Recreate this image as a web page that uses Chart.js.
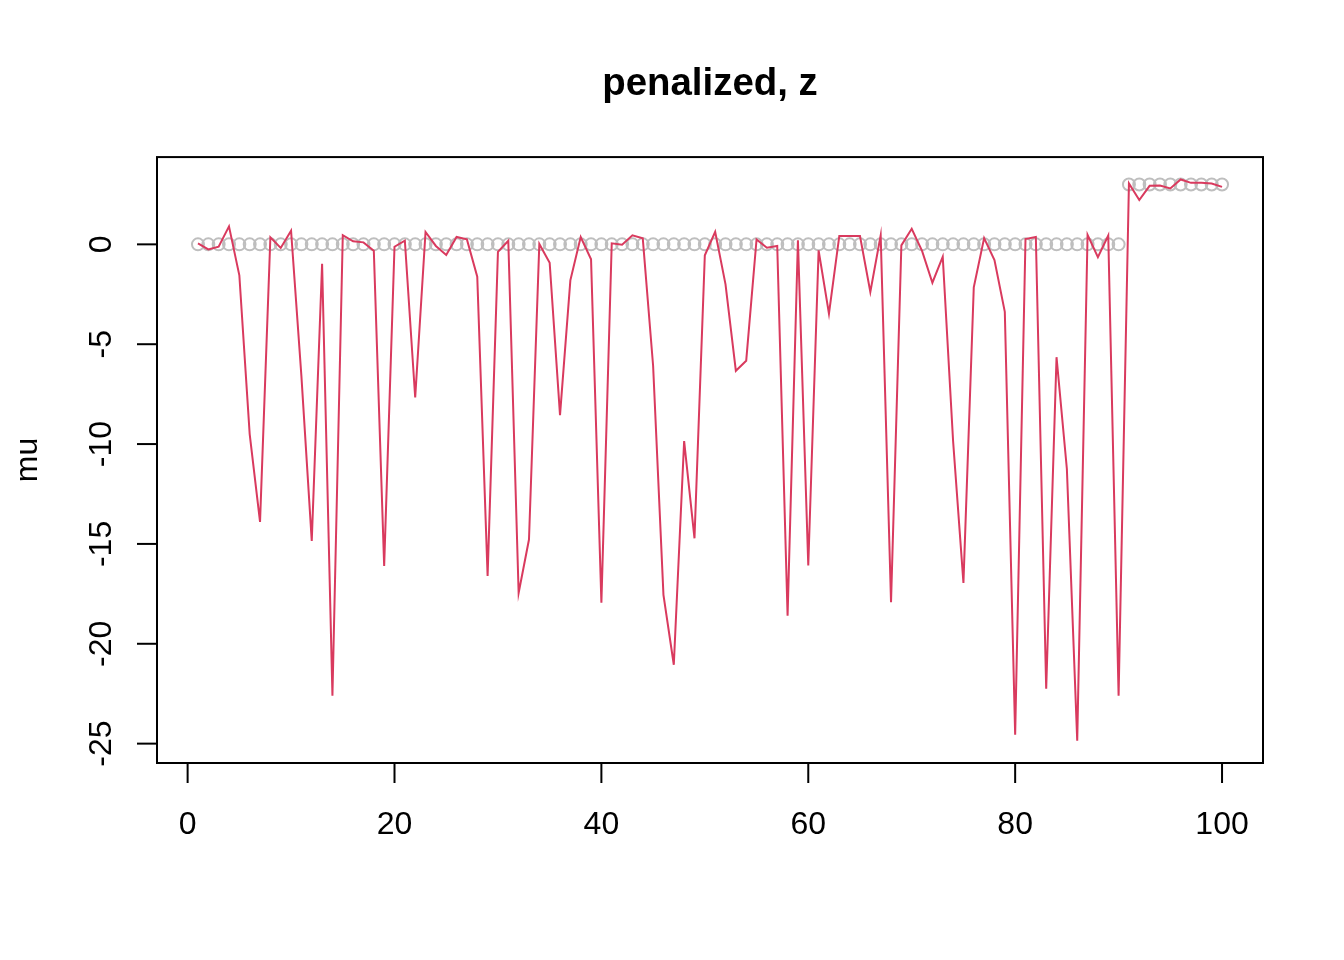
<!DOCTYPE html>
<html>
<head>
<meta charset="utf-8">
<title>penalized, z</title>
<script src="https://cdn.jsdelivr.net/npm/chart.js@4.4.1/dist/chart.umd.min.js"></script>
<style>
  html, body { margin: 0; padding: 0; background: #fff; }
  #wrap { width: 1344px; height: 960px; }
</style>
</head>
<body>
<div id="wrap"><canvas id="muChart" width="1344" height="960"></canvas></div>
<script>
// fitted mu (red line), index 1..100
const mu = [
  0.05, -0.25, -0.12, 0.9, -1.55, -9.5, -13.9, 0.35, -0.18, 0.68,
  -6.6, -14.85, -0.97, -22.6, 0.46, 0.15, 0.1, -0.32, -16.1, -0.12,
  0.18, -7.67, 0.62, -0.08, -0.53, 0.37, 0.25, -1.62, -16.6, -0.38,
  0.18, -17.45, -14.78, 0.02, -0.92, -8.55, -1.8, 0.37, -0.75, -17.95,
  0.05, -0.02, 0.45, 0.3, -6.08, -17.55, -21.05, -9.85, -14.72, -0.55,
  0.63, -2.0, -6.33, -5.83, 0.25, -0.17, -0.08, -18.6, 0.2, -16.08,
  -0.3, -3.47, 0.42, 0.42, 0.42, -2.38, 0.45, -17.92, -0.05, 0.78,
  -0.33, -1.92, -0.62, -9.85, -16.95, -2.15, 0.31, -0.79, -3.38, -24.55,
  0.27, 0.37, -22.25, -5.65, -11.25, -24.85, 0.48, -0.64, 0.44, -22.6,
  3.05, 2.22, 2.93, 2.95, 2.8, 3.25, 3.08, 3.08, 3.05, 2.88
];

// true z (grey circles)
const z = [
  0, 0, 0, 0, 0, 0, 0, 0, 0, 0,
  0, 0, 0, 0, 0, 0, 0, 0, 0, 0,
  0, 0, 0, 0, 0, 0, 0, 0, 0, 0,
  0, 0, 0, 0, 0, 0, 0, 0, 0, 0,
  0, 0, 0, 0, 0, 0, 0, 0, 0, 0,
  0, 0, 0, 0, 0, 0, 0, 0, 0, 0,
  0, 0, 0, 0, 0, 0, 0, 0, 0, 0,
  0, 0, 0, 0, 0, 0, 0, 0, 0, 0,
  0, 0, 0, 0, 0, 0, 0, 0, 0, 0,
  3, 3, 3, 3, 3, 3, 3, 3, 3, 3
];

const xTicks = [0, 20, 40, 60, 80, 100];
const yTicks = [0, -5, -10, -15, -20, -25];

const idx = mu.map(function (v, i) { return i + 1; });
const muPts = mu.map(function (v, i) { return { x: idx[i], y: v }; });
const zPts = z.map(function (v, i) { return { x: idx[i], y: v }; });

const FONT = "'Liberation Sans', Arial, Helvetica, sans-serif";

// R style box, outward ticks and labels
const baseAxes = {
  id: "baseAxes",
  afterDraw: function (chart) {
    const ctx = chart.ctx;
    const a = chart.chartArea;
    const xs = chart.scales.x;
    const ys = chart.scales.y;
    const tick = 20;
    ctx.save();
    ctx.strokeStyle = "#000";
    ctx.lineWidth = 2;
    ctx.strokeRect(a.left, a.top, a.right - a.left, a.bottom - a.top);

    ctx.fillStyle = "#000";
    ctx.font = "32px " + FONT;

    // x axis
    ctx.textAlign = "center";
    ctx.textBaseline = "alphabetic";
    xTicks.forEach(function (t) {
      const px = xs.getPixelForValue(t);
      ctx.beginPath();
      ctx.moveTo(px, a.bottom);
      ctx.lineTo(px, a.bottom + tick);
      ctx.stroke();
      ctx.fillText(String(t), px, 834);
    });

    // y axis, labels turned like R
    yTicks.forEach(function (t) {
      const py = ys.getPixelForValue(t);
      ctx.beginPath();
      ctx.moveTo(a.left, py);
      ctx.lineTo(a.left - tick, py);
      ctx.stroke();
      ctx.save();
      ctx.translate(111, py);
      ctx.rotate(-Math.PI / 2);
      ctx.fillText(String(t), 0, 0);
      ctx.restore();
    });

    // y title
    ctx.save();
    ctx.translate(37, (a.top + a.bottom) / 2);
    ctx.rotate(-Math.PI / 2);
    ctx.fillText("mu", 0, 0);
    ctx.restore();

    ctx.restore();
  }
};

const muChart = new Chart("muChart", {
  type: "scatter",
  data: {
    datasets: [{
      label: "mu",
      data: muPts,
      showLine: true,
      borderColor: "#D93A5E",
      borderWidth: 2,
      pointRadius: 0,
      tension: 0
    }, {
      label: "z",
      data: zPts,
      showLine: false,
      pointStyle: "circle",
      pointRadius: 6,
      pointBorderWidth: 2,
      pointBorderColor: "#BEBEBE",
      pointBackgroundColor: "rgba(0,0,0,0)"
    }]
  },
  options: {
    responsive: false,
    devicePixelRatio: 1,
    animation: false,
    layout: { padding: { left: 157, right: 81, top: 0, bottom: 197 } },
    scales: {
      x: { type: "linear", display: false, min: -2.96, max: 103.96 },
      y: { type: "linear", display: false, min: -25.97, max: 4.37 }
    },
    plugins: {
      legend: { display: false },
      tooltip: { enabled: false },
      title: {
        display: true,
        text: "penalized, z",
        fullSize: false,
        color: "#000",
        font: { family: FONT, size: 38.4, weight: "bold", lineHeight: 1.2 },
        padding: { top: 61, bottom: 50 }
      }
    }
  },
  plugins: [baseAxes]
});
</script>
</body>
</html>
